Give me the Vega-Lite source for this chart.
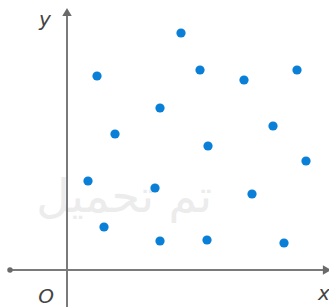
{
  "$schema": "https://vega.github.io/schema/vega-lite/v6.json",
  "width": 329,
  "height": 307,
  "padding": 0,
  "autosize": {"type": "none"},
  "background": "white",
  "view": {"stroke": null},
  "datasets": {
    "pts": [
      {"x": 3.0, "y": 19.4}, {"x": 11.4, "y": 23.7}, {"x": 13.3, "y": 20.0},
      {"x": 17.7, "y": 19.0}, {"x": 23.0, "y": 20.0}, {"x": 9.3, "y": 16.2},
      {"x": 4.8, "y": 13.6}, {"x": 20.6, "y": 14.4}, {"x": 14.1, "y": 12.4},
      {"x": 23.9, "y": 10.9}, {"x": 2.1, "y": 8.9}, {"x": 8.8, "y": 8.2},
      {"x": 18.5, "y": 7.6}, {"x": 3.7, "y": 4.3}, {"x": 9.3, "y": 2.9},
      {"x": 14.0, "y": 3.0}, {"x": 21.7, "y": 2.7}
    ],
    "axes": [
      {"x": -5.7, "y": 0, "x2": 26.0, "y2": 0},
      {"x": 0, "y": -3.8, "x2": 0, "y2": 25.8}
    ],
    "arrows": [
      {"x": 26.0, "y": 0, "shape": "triangle-right"},
      {"x": 0, "y": 25.8, "shape": "triangle-up"}
    ],
    "labels": [
      {"x": -2.2, "y": 25.0, "t": "y"},
      {"x": -2.1, "y": -2.7, "t": "O"},
      {"x": 25.7, "y": -2.4, "t": "x"}
    ],
    "wm": [
      {"x": 14.5, "y": 7.2, "t": "تم تحميل"}
    ]
  },
  "layer": [
    {
      "data": {"name": "wm"},
      "mark": {"type": "text", "align": "right", "baseline": "middle", "fontSize": 46, "font": "DejaVu Sans", "color": "#ececec"},
      "encoding": {
        "x": {"field": "x", "type": "quantitative", "scale": {"domain": [-6.7, 26.2], "nice": false, "zero": false}, "axis": null},
        "y": {"field": "y", "type": "quantitative", "scale": {"domain": [-3.7, 27.0], "nice": false, "zero": false}, "axis": null},
        "text": {"field": "t"}
      }
    },
    {
      "data": {"name": "axes"},
      "mark": {"type": "rule", "color": "#7a7a7a", "strokeWidth": 2},
      "encoding": {
        "x": {"field": "x", "type": "quantitative"},
        "y": {"field": "y", "type": "quantitative"},
        "x2": {"field": "x2"},
        "y2": {"field": "y2"}
      }
    },
    {
      "data": {"name": "arrows"},
      "mark": {"type": "point", "filled": true, "color": "#6a6a6a", "size": 90, "opacity": 1},
      "encoding": {
        "x": {"field": "x", "type": "quantitative"},
        "y": {"field": "y", "type": "quantitative"},
        "shape": {"field": "shape", "type": "nominal", "scale": null}
      }
    },
    {
      "data": {"values": [{"x": -5.7, "y": 0}]},
      "mark": {"type": "point", "filled": true, "color": "#6a6a6a", "size": 30, "opacity": 1},
      "encoding": {
        "x": {"field": "x", "type": "quantitative"},
        "y": {"field": "y", "type": "quantitative"}
      }
    },
    {
      "data": {"name": "pts"},
      "mark": {"type": "circle", "color": "#0a7fd8", "size": 85, "opacity": 1},
      "encoding": {
        "x": {"field": "x", "type": "quantitative"},
        "y": {"field": "y", "type": "quantitative"}
      }
    },
    {
      "data": {"name": "labels"},
      "mark": {"type": "text", "fontSize": 20, "fontStyle": "italic", "font": "DejaVu Sans", "color": "#444444", "align": "center", "baseline": "middle"},
      "encoding": {
        "x": {"field": "x", "type": "quantitative"},
        "y": {"field": "y", "type": "quantitative"},
        "text": {"field": "t"}
      }
    }
  ]
}
